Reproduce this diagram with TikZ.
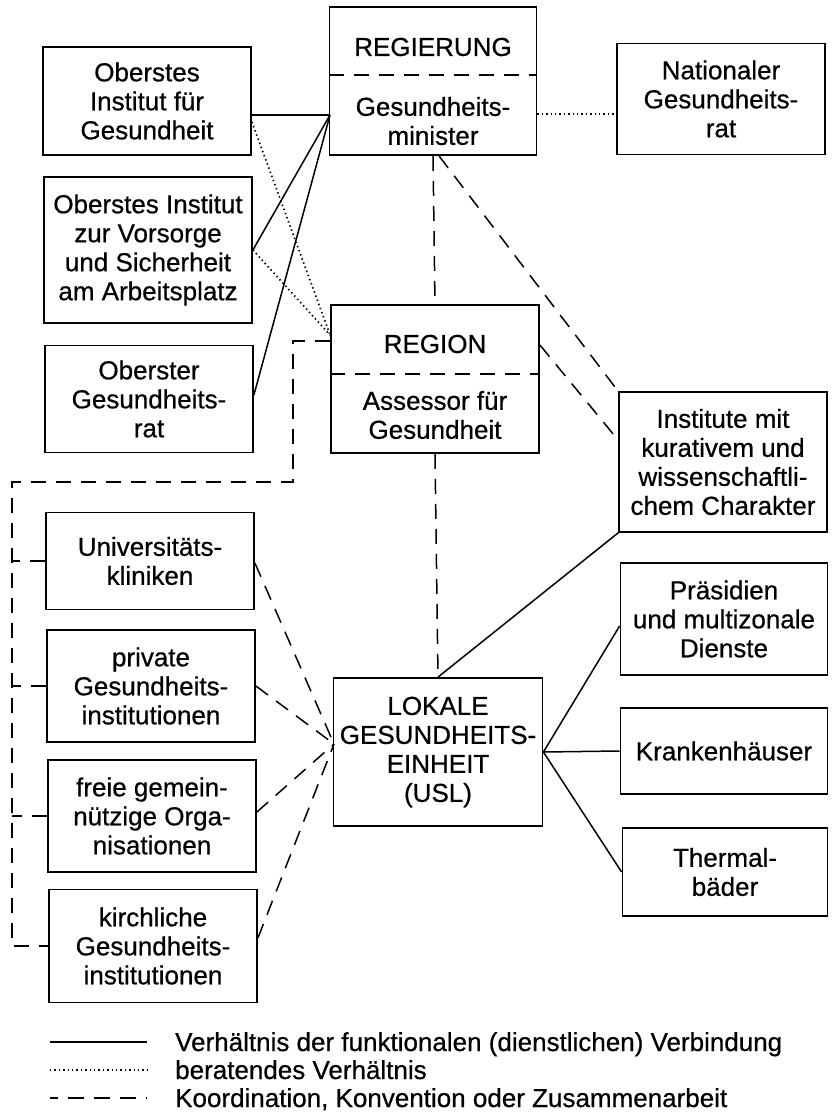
\documentclass[tikz,border=0pt]{standalone}
\usepackage{fontspec}
\setmainfont{Liberation Sans}[UprightFeatures={FakeBold=0.6}]
\usetikzlibrary{positioning}
\begin{document}
\begin{tikzpicture}[x=1pt,y=-1pt]
\tikzstyle{every node}=[font=\fontsize{26}{29}\selectfont]
\tikzstyle{box}=[draw, line width=1.8pt, align=center, inner sep=0pt, minimum width=208pt]
\tikzstyle{txt}=[align=center, inner sep=0pt]
\tikzstyle{func}=[line width=1.5pt]
\tikzstyle{adv}=[line width=1.7pt, dash pattern=on 1.4pt off 3pt]
\tikzstyle{coop}=[line width=1.5pt, dash pattern=on 15pt off 10pt]

\useasboundingbox (0,0) rectangle (831,1113);

\node[box, minimum height=108pt] (oig) at (147,101) {Oberstes\\Institut für\\Gesundheit};
\node[box, minimum height=146pt] (oiv) at (148,250) {Oberstes Institut\\zur Vorsorge\\und Sicherheit\\am Arbeitsplatz};
\node[box, minimum height=107pt] (ogr) at (149,399) {Oberster\\Gesundheits-\\rat};
\node[box, minimum height=97pt]  (uni) at (150,561) {Universitäts-\\kliniken};
\node[box, minimum height=112pt] (pri) at (151,686) {private\\Gesundheits-\\institutionen};
\node[box, minimum height=112pt] (fre) at (152,816) {freie gemein-\\nützige Orga-\\nisationen};
\node[box, minimum height=113pt] (kir) at (153,946) {kirchliche\\Gesundheits-\\institutionen};

\node[box, minimum width=207pt, minimum height=148pt] (reg) at (433,81) {};
\node[txt] (regt) at (433,47) {REGIERUNG};
\node[txt] (regm) at (433,121) {Gesundheits-\\minister};
\node[box, minimum width=208pt, minimum height=148pt] (rgn) at (435,379) {};
\node[txt] (rgnt) at (435,344) {REGION};
\node[txt] (rgna) at (435,415) {Assessor für\\Gesundheit};
\node[box, minimum width=209pt, minimum height=148pt] (lok) at (438,752) {LOKALE\\GESUNDHEITS-\\EINHEIT\\(USL)};

\node[box, minimum width=208pt, minimum height=111pt] (nat) at (721,99)  {Nationaler\\Gesundheits-\\rat};
\node[box, minimum width=208pt, minimum height=140pt] (ins) at (723,462) {Institute mit\\kurativem und\\wissenschaftli-\\chem Charakter};
\node[box, minimum width=207pt, minimum height=112pt] (pra) at (724,619) {Präsidien\\und multizonale\\Dienste};
\node[box, minimum width=207pt, minimum height=86pt]  (kra) at (724,751) {Krankenhäuser};
\node[box, minimum width=205pt, minimum height=88pt]  (the) at (725,872) {Thermal-\\bäder};

\draw[coop, line width=1.3pt] (reg.west |- 0,75) -- (reg.east |- 0,75);
\draw[coop, line width=1.3pt] (rgn.west |- 0,374) -- (rgn.east |- 0,374);

\coordinate (regin) at (330,115);
\draw[func] (oig.east |- regin) -- (regin);
\draw[func] (oiv.east) -- (regin);
\draw[func] ([yshift=4pt]ogr.east) -- (regin);

\draw[adv] ([yshift=-21pt]oig.east) -- ([yshift=44pt]rgn.west);
\draw[adv] (oiv.east) -- ([yshift=44pt]rgn.west);
\draw[adv] ([yshift=-33pt]reg.east) -- (nat.west |- 0,114);

\draw[coop] (reg.south) -- (rgn.north);
\draw[coop] ([xshift=6pt]reg.south) -- (ins.north west);
\draw[coop] ([yshift=34pt]rgn.east) -- ([yshift=22pt]ins.west);
\draw[coop] (rgn.south) -- (lok.north);

\coordinate (br1) at (293,482);
\coordinate (br2) at (12,482);
\draw[coop] ([yshift=38pt]rgn.west) -| (br1) -- (br2) |- (kir.west);
\draw[coop] (uni.west) -- (uni.west -| br2);
\draw[coop] (pri.west) -- (pri.west -| br2);
\draw[coop] (fre.west) -- (fre.west -| br2);

\coordinate (lokin) at (334,744);
\draw[coop] ([yshift=-2pt]uni.east) -- (lokin);
\draw[coop] (pri.east) -- (lokin);
\draw[coop] ([yshift=4pt]fre.east) -- (lokin);
\draw[coop] ([yshift=8pt]kir.east) -- (lokin);

\draw[func] (lok.north) -- (ins.south west);
\draw[func] (lok.east) -- ([yshift=-7pt]pra.west);
\draw[func] (lok.east) -- (kra.west);
\draw[func] (lok.east) -- (the.west);

\coordinate (ls1) at (50,1042);  \coordinate (le1) at (147,1042);
\coordinate (ls2) at (50,1070);  \coordinate (le2) at (147,1070);
\coordinate (ls3) at (50,1098);  \coordinate (le3) at (147,1098);
\draw[func, line width=1.8pt] (ls1) -- (le1);
\draw[adv] (ls2) -- (le2);
\draw[coop, line width=1.8pt, dash pattern=on 8pt off 10pt on 16pt off 10pt on 16pt off 10pt on 16pt off 10pt] (ls3) -- (le3);
\node[anchor=base west, inner sep=0pt] (lg1) at (175,1051) {Verhältnis der funktionalen (dienstlichen) Verbindung};
\node[anchor=base west, inner sep=0pt] (lg2) at (175,1079) {beratendes Verhältnis};
\node[anchor=base west, inner sep=0pt] (lg3) at (175,1107) {Koordination, Konvention oder Zusammenarbeit};
\end{tikzpicture}
\end{document}
